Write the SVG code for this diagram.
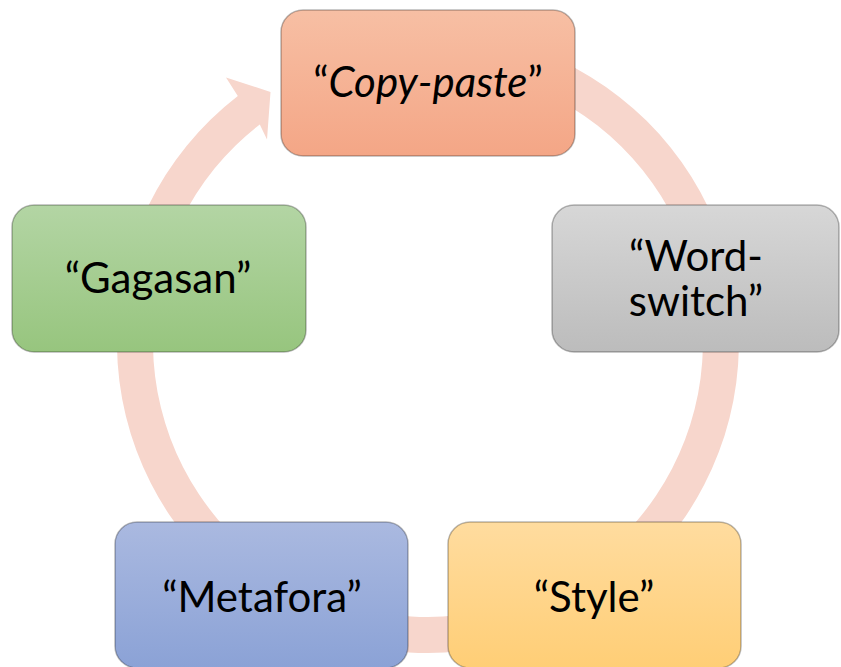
<svg xmlns="http://www.w3.org/2000/svg" width="841" height="667" viewBox="0 0 841 667">
<style>
.node{stroke:#000;stroke-opacity:0.28;stroke-width:1.5}
.lbl{font-family:Lato,"Open Sans","Liberation Sans",sans-serif;font-size:42px;fill:#000;text-anchor:middle}
.ring{fill:#F7D6CC}
</style>
<defs>
<linearGradient id="gOrange" x1="0" y1="0" x2="0" y2="1"><stop offset="0" stop-color="#F7BFA4"/><stop offset="1" stop-color="#F4A686"/></linearGradient>
<linearGradient id="gGray" x1="0" y1="0" x2="0" y2="1"><stop offset="0" stop-color="#D7D7D7"/><stop offset="1" stop-color="#BCBCBC"/></linearGradient>
<linearGradient id="gGreen" x1="0" y1="0" x2="0" y2="1"><stop offset="0" stop-color="#B3D5A4"/><stop offset="1" stop-color="#97C57E"/></linearGradient>
<linearGradient id="gBlue" x1="0" y1="0" x2="0" y2="1"><stop offset="0" stop-color="#AAB9E0"/><stop offset="1" stop-color="#8BA2D6"/></linearGradient>
<linearGradient id="gYellow" x1="0" y1="0" x2="0" y2="1"><stop offset="0" stop-color="#FFDC9F"/><stop offset="1" stop-color="#FFCE76"/></linearGradient>
</defs>
<g id="connectors">
<path class="ring" d="M455.1 32.2 A311 311 0 1 1 237.8 95.9 L226 77.5 L270.5 92 L267 139.5 L259.8 124.4 A275 275 0 1 0 452.0 68.05 Z"/>
</g>
<g id="node-copy-paste">
<rect class="node" x="281" y="10" width="294" height="146" rx="22" fill="url(#gOrange)"/>
<text class="lbl" x="428" y="97">“<tspan font-style="italic">Copy-paste</tspan>”</text>
</g>
<g id="node-word-switch">
<rect class="node" x="552" y="205" width="287" height="147" rx="22" fill="url(#gGray)"/>
<text class="lbl" x="696" y="271" font-size="41">“Word-</text>
<text class="lbl" x="696" y="316" font-size="41">switch”</text>
</g>
<g id="node-style">
<rect class="node" x="448" y="522" width="293" height="146" rx="22" fill="url(#gYellow)"/>
<text class="lbl" x="594" y="612">“Style”</text>
</g>
<g id="node-metafora">
<rect class="node" x="115" y="522" width="293" height="146" rx="22" fill="url(#gBlue)"/>
<text class="lbl" x="262" y="612">“Metafora”</text>
</g>
<g id="node-gagasan">
<rect class="node" x="12" y="205" width="294" height="147" rx="22" fill="url(#gGreen)"/>
<text class="lbl" x="158" y="293">“Gagasan”</text>
</g>
</svg>
